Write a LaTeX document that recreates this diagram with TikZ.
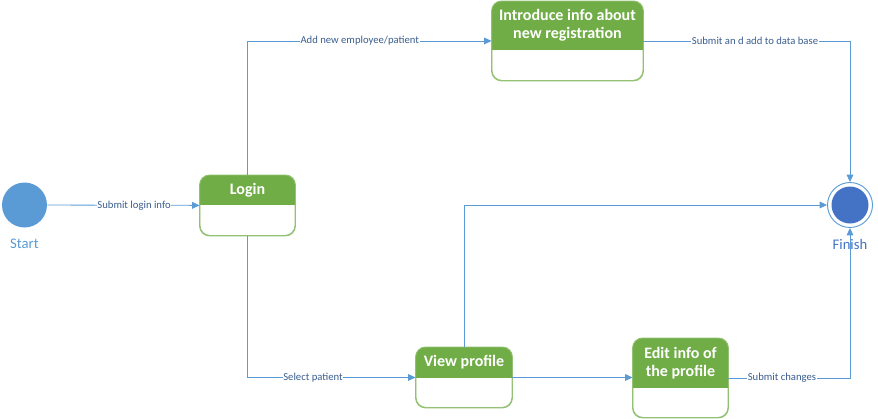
\documentclass[tikz,border=0pt]{standalone}
\usepackage{fontspec}
\setmainfont{Carlito}
\usetikzlibrary{arrows.meta,positioning}
\definecolor{linkblue}{HTML}{5B9BD5}
\definecolor{hdrgreen}{HTML}{70AD47}
\definecolor{finblue}{HTML}{4472C4}
\definecolor{lbltext}{HTML}{3B5E8F}
\tikzset{
  flow/.style={draw=linkblue, line width=0.6pt, -{Triangle[width=5pt,length=5.5pt]}},
  lbl/.style={fill=white, inner sep=0.4pt, text=lbltext, font=\fontsize{8}{9}\selectfont},
  actbox/.style={rectangle, draw=hdrgreen!75!white, line width=0.7pt, rounded corners=7.5pt, fill=white, inner sep=0pt},
  hdrtext/.style={text=white, align=center, font=\bfseries\fontsize{12}{13.5}\selectfont},
  endlbl/.style={font=\fontsize{11}{12}\selectfont, inner sep=1pt}
}
\begin{document}
\begin{tikzpicture}[x=0.75pt, y=-0.75pt]
\useasboundingbox (0,0) rectangle (878,418);
% start and finish
\node[circle, fill=linkblue, minimum size=45*0.75pt, inner sep=0pt] (start) at (24.5,205) {};
\node[endlbl, text=linkblue, below=7pt of start] (startlbl) {Start};
\node[circle, fill=finblue, minimum size=37*0.75pt, inner sep=0pt] (fincore) at (850,205) {};
\node[circle, draw=linkblue, line width=0.7pt, minimum size=45*0.75pt, inner sep=0pt] (finish) at (850,205) {};
\node[endlbl, text=finblue, below=7pt of finish] (finlbl) {Finish};
% activity boxes
\foreach \nm/\cx/\top/\w/\h/\hh/\txt in {
    login/247.5/175/95/60/30/{Login},
    intro/567.5/1/151/79/49/{Introduce info about\\new registration},
    view/464/347/96/60/31/{View profile},
    edit/680.5/338/95/79/50/{Edit info of\\the profile}}
{
  \node[actbox, minimum width=\w*0.75pt, minimum height=\h*0.75pt, anchor=north] (\nm) at (\cx,\top) {};
  \begin{scope}
    \clip[rounded corners=7.5pt] (\nm.south west) rectangle (\nm.north east);
    \fill[hdrgreen] (\nm.north west) rectangle ([yshift=-\hh*0.75pt]\nm.north east);
  \end{scope}
  \draw[hdrgreen!75!white, line width=0.7pt, rounded corners=7.5pt] (\nm.south west) rectangle (\nm.north east);
  \node[hdrtext] (\nm-hdr) at ([yshift=-\hh*0.375pt]\nm.north) {\txt};
}
% transitions
\draw[flow] (start) -- node[lbl, pos=0.57] {Submit login info} (login);
\draw[flow] (login.north) |- node[lbl, pos=0.73] {Add new employee/patient} (intro.west);
\draw[flow] (intro.east) -| node[lbl, pos=0.27] {Submit an d add to data base} (finish.north);
\draw[flow] (login.south) |- node[lbl, pos=0.695] {Select patient} (view.west);
\draw[flow] (view.north) |- (finish.west);
\draw[flow] (view.east) -- (edit.west |- view.east);
\draw[flow] (edit.east) -| node[lbl, pos=0.22] {Submit changes} (finish.south);
\end{tikzpicture}
\end{document}
